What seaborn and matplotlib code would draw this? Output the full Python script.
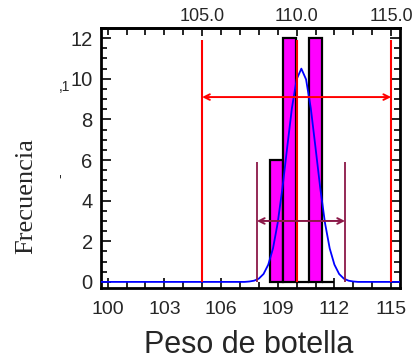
import matplotlib
matplotlib.use('Agg')
import matplotlib.pyplot as plt
import seaborn as sns
from matplotlib.ticker import MultipleLocator

# ---- data ----
bin_edges = [108.6, 109.28, 109.96, 110.64, 111.32, 112.0]
bin_counts = [6, 12, 0, 12, 0]

curve_x = [99.65, 107.25, 107.5, 107.75, 108.0, 108.25, 108.5, 108.75, 109.0, 109.25,
           109.5, 109.75, 110.0, 110.25, 110.5, 110.75, 111.0, 111.25, 111.5, 111.75,
           112.0, 112.25, 112.5, 112.75, 113.0, 113.25, 115.45]
curve_y = [0, 0, 0.02, 0.06, 0.16, 0.39, 0.85, 1.65, 2.91, 4.62,
           6.61, 8.55, 9.97, 10.5, 9.97, 8.55, 6.61, 4.62, 2.91, 1.65,
           0.85, 0.39, 0.16, 0.06, 0.02, 0, 0]

spec_limits = [105.0, 110.0, 115.0]   # LSL, nominal, USL
spec_top = 11.9
spec_arrow_y = 9.1
sigma_limits = [107.9, 112.56]        # mean -/+ 3 sigma
sigma_top = 5.9
sigma_arrow_y = 3.0

bottom_ticks = [100, 103, 106, 109, 112, 115]
top_ticks = [105.0, 110.0, 115.0]
y_ticks = [0, 2, 4, 6, 8, 10, 12]

x_label = 'Peso de botella'
y_label = 'Frecuencia'

# ---- figure ----
sns.set_style('ticks')
plt.rcParams['font.family'] = ['Liberation Sans', 'DejaVu Sans']

W, H = 417, 362
fig = plt.figure(figsize=(W / 100, H / 100), dpi=100)
ax = fig.add_axes([101 / W, 1 - 288 / H, 299 / W, 260 / H])

centers = [(a + b) / 2 for a, b in zip(bin_edges[:-1], bin_edges[1:])]
sns.histplot(x=centers, weights=bin_counts, bins=bin_edges, color='#FF00FF',
             edgecolor='black', linewidth=1.6, alpha=1, ax=ax, zorder=2)

sns.lineplot(x=curve_x, y=curve_y, color='#0000FF', lw=1.3, ax=ax, zorder=4, sort=True)

red = '#FF0000'
maroon = '#8B1848'
ax.vlines(spec_limits, 0, spec_top, color=red, lw=1.5, zorder=5)
ax.annotate('', xy=(spec_limits[0], spec_arrow_y), xytext=(spec_limits[2], spec_arrow_y),
            arrowprops=dict(arrowstyle='<->', color=red, lw=1.4, mutation_scale=10,
                            shrinkA=0, shrinkB=0), zorder=5)
ax.vlines(sigma_limits, 0, sigma_top, color=maroon, lw=1.3, zorder=5)
ax.annotate('', xy=(sigma_limits[0], sigma_arrow_y), xytext=(sigma_limits[1], sigma_arrow_y),
            arrowprops=dict(arrowstyle='<->', color=maroon, lw=1.4, mutation_scale=10,
                            shrinkA=0, shrinkB=0), zorder=5)

ax.set_xlim(99.65, 115.47)
ax.set_ylim(-0.3, 12.5)

ax.set_xticks(bottom_ticks)
ax.set_xticklabels([str(t) for t in bottom_ticks])
ax.xaxis.set_minor_locator(MultipleLocator(1))
ax.set_yticks(y_ticks)
ax.set_yticklabels([str(t) for t in y_ticks])
ax.yaxis.set_minor_locator(MultipleLocator(0.5))

ax.tick_params(which='both', direction='in', left=True, right=True, bottom=True, top=False,
               color='black', width=1.2)
ax.tick_params(which='major', length=7)
ax.tick_params(which='minor', length=4)
ax.tick_params(axis='x', which='major', labelsize=14, pad=9)
ax.tick_params(axis='y', which='major', labelsize=14.5, pad=6)

sec = ax.secondary_xaxis('top')
sec.set_xticks(top_ticks)
sec.set_xticklabels(['%.1f' % t for t in top_ticks])
sec.xaxis.set_minor_locator(MultipleLocator(1))
sec.tick_params(which='both', direction='in', color='black', width=1.2)
sec.tick_params(which='major', length=6, labelsize=13, pad=2)
sec.tick_params(which='minor', length=5)
sec.spines['top'].set_linewidth(2)

for s in ax.spines.values():
    s.set_linewidth(2)
    s.set_color('black')

ax.set_xlabel('')
ax.set_ylabel('')
fig.text(249 / W, 1 - 345 / H, x_label, ha='center', va='center', fontsize=22)
fig.text(26 / W, 1 - 196 / H, y_label, ha='center', va='center', rotation=90,
         fontsize=19, family=['Liberation Serif', 'DejaVu Serif'])
fig.text(64 / W, 1 - 87 / H, ',1', ha='center', va='center', fontsize=10)
fig.text(60 / W, 1 - 176 / H, '-', ha='center', va='center', fontsize=10, rotation=90)

fig.savefig('out.png', dpi=100)
